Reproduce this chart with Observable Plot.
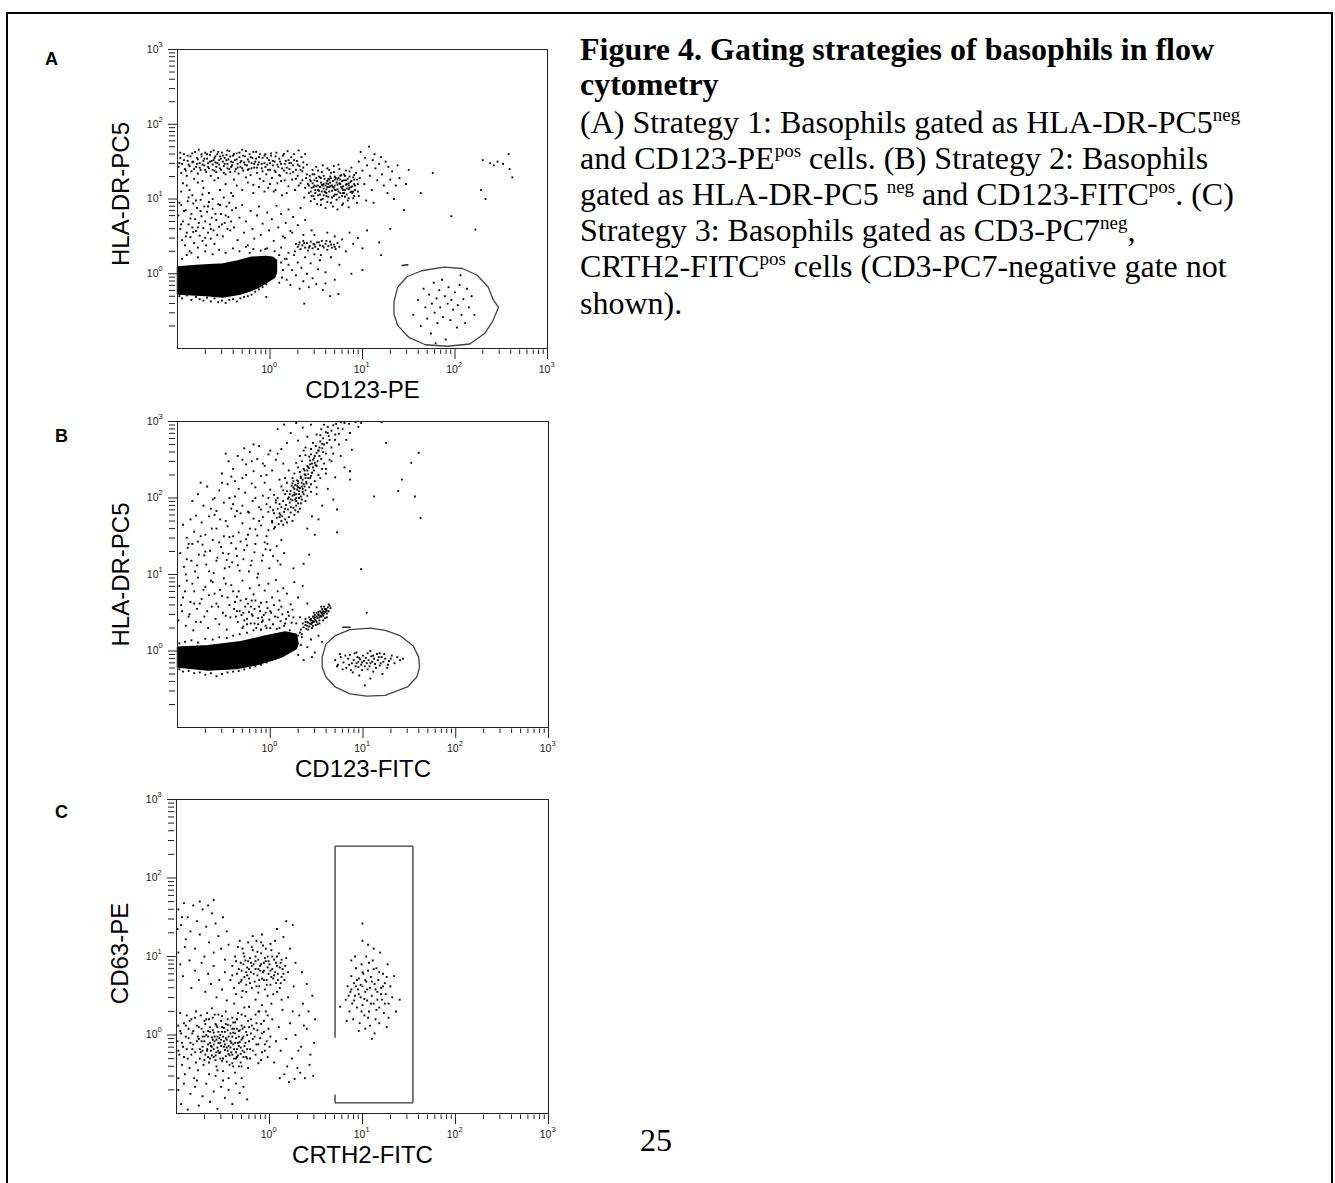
<!DOCTYPE html>
<html><head><meta charset="utf-8">
<script src="https://cdn.jsdelivr.net/npm/d3@7"></script>
<script src="https://cdn.jsdelivr.net/npm/@observablehq/plot@0.6"></script>
<style>
html,body{margin:0;padding:0;background:#fff;}
#page{position:relative;width:1335px;height:1183px;overflow:hidden;background:#fff;}
#border{position:absolute;left:6px;top:12px;width:1323px;height:1220px;border:2px solid #000;border-bottom:none;}
.panel{position:absolute;left:0;}
.letter{position:absolute;font:bold 18px "Liberation Sans",Arial,sans-serif;line-height:18px;}
.cap{position:absolute;left:580px;font:32px "Liberation Serif","Times New Roman",serif;line-height:32px;white-space:nowrap;color:#000;}
.cap.b{font-weight:bold;}
.cap sup{font-size:19px;vertical-align:12px;line-height:0;}
</style></head><body>
<div id="page">
<div id="border"></div>
<div class="letter" style="left:45px;top:50px">A</div>
<div class="letter" style="left:55px;top:427px">B</div>
<div class="letter" style="left:55px;top:803px">C</div>
<div class="cap b" style="top:33px">Figure 4. Gating strategies of basophils in flow</div>
<div class="cap b" style="top:68px">cytometry</div>
<div class="cap" style="top:106px">(A) Strategy 1: Basophils gated as HLA-DR-PC5<sup>neg</sup></div>
<div class="cap" style="top:142px">and CD123-PE<sup>pos</sup> cells. (B) Strategy 2: Basophils</div>
<div class="cap" style="top:178px">gated as HLA-DR-PC5 <sup>neg</sup> and CD123-FITC<sup>pos</sup>. (C)</div>
<div class="cap" style="top:214px">Strategy 3: Basophils gated as CD3-PC7<sup>neg</sup>,</div>
<div class="cap" style="top:250px">CRTH2-FITC<sup>pos</sup> cells (CD3-PC7-negative gate not</div>
<div class="cap" style="top:287px">shown).</div>
<div class="cap" style="top:1124px;left:640px">25</div>
<div id="pA" class="panel"></div>
<div id="pB" class="panel"></div>
<div id="pC" class="panel"></div>
</div>
<script>
// Event coordinates are log10(value) x 100, as flat (x, y) pairs.
const majorTicks = [1, 10, 100, 1000];
const tickBase = "10";
const tickExponents = ["0", "1", "2", "3"];
const minorTicks = [0.2,0.3,0.4,0.5,0.6,0.7,0.8,0.9, 2,3,4,5,6,7,8,9, 20,30,40,50,60,70,80,90, 200,300,400,500,600,700,800,900];

const A_blob = [-100,9, -80,11, -51,13, -35,17, -20,22, -5,23, 3,22, 7,18, 7,2, 5,-5, -4,-12, -12,-18, -22,-23, -32,-27, -51,-31, -70,-29, -100,-27];
const A_gate = [134,-38, 138,-18, 148,-4, 164,4, 188,9, 208,7, 224,-2, 236,-18, 241,-34, 247,-45, 241,-63, 232,-80, 216,-94, 192,-97, 168,-95, 150,-85, 138,-69, 134,-54];
const A_dash = [143,11, 149,12];
const A_cloud = [
-98,148,-96,135,-97,162,-94,121,-93,152,-92,140,-90,131,-89,158,-88,146,-87,112,-85,137,-84,161,-83,150,-82,127,-80,143,-79,155,-78,134,-77,166,-76,148,-75,139,-74,157,-73,124,-72,151,-71,145,-70,162,-69,136,-68,154,-67,148,-66,141,-65,159,-64,131,-63,151,-62,146,-61,165,-60,138,-60,155,-59,149,-58,143,-57,160,-56,128,-55,152,-55,146,-54,157,-53,139,-52,162,-51,150,-50,144,-49,155,-48,133,-47,159,-46,147,-46,141,-45,153,-44,164,-43,136,-42,150,-41,145,-40,158,-39,126,-38,152,-37,140,-36,161,-35,147,-34,134,-33,156,-32,143,-31,151,-30,166,-29,138,-28,149,-27,157,-26,129,-25,145,-24,153,-23,140,-22,160,-21,132,-20,148,-19,155,-18,119,-17,142,-16,150,-15,163,-14,135,-13,146,-12,156,-11,127,
-99,143,-97,155,-95,147,-93,160,-91,138,-89,151,-87,144,-86,157,-84,149,-82,140,-81,163,-79,147,-78,153,-76,142,-74,160,-73,146,-71,154,-70,139,-68,160,-67,143,-65,150,-64,163,-62,139,-61,152,-59,157,-58,136,-57,148,-56,163,-54,141,-53,154,-51,158,-50,135,-49,147,-47,152,-46,165,-44,140,-43,157,-42,143,-40,149,-39,160,-38,137,-36,153,-35,142,-33,162,-32,149,-30,141,-29,158,-27,146,-26,164,-24,139,-23,150,-21,156,-20,141,-18,163,-17,147,-15,154,-14,142,-12,149,-11,160,-9,147,-8,137,-6,158,-5,143,-3,155,-2,139,0,148,1,161,3,151,5,138,6,157,8,146,10,132,11,150,13,141,15,160,16,147,18,135,20,152,21,140,23,148,25,136,26,152,28,127,30,146,31,118,33,139,35,125,36,142,38,115,40,133,
-96,110,-90,118,-84,105,-78,122,-72,115,-66,108,-60,125,-54,112,-48,120,-42,108,-36,118,-30,112,-24,122,-18,108,-12,116,-6,110,0,120,6,112,12,124,18,108,
-9,141,-8,155,-7,124,-6,148,-5,160,-4,133,-3,146,-2,115,-1,152,0,139,1,158,2,128,3,145,4,110,5,150,6,136,7,162,8,121,9,143,10,154,11,131,12,147,13,105,14,158,15,138,16,125,17,151,18,142,19,164,20,117,21,148,22,134,23,156,24,126,25,145,26,160,27,112,28,139,29,151,30,131,31,165,32,144,33,121,34,156,35,137,36,149,37,102,38,160,39,128,40,146,
41,120,42,108,43,131,44,97,45,115,46,139,47,104,48,125,49,112,50,143,51,93,52,118,53,130,54,106,55,122,56,136,57,100,58,114,59,127,60,88,60,109,61,121,62,141,63,103,64,116,65,130,66,95,67,111,68,124,69,136,70,106,70,118,71,128,72,99,73,113,74,146,75,121,76,108,77,132,78,92,79,117,80,125,81,103,82,138,83,114,84,98,85,121,86,130,87,109,88,142,89,117,90,101,91,126,92,112,93,135,94,95,95,120,44,124,47,116,50,128,53,111,56,119,58,105,61,113,63,127,65,117,67,102,69,115,72,122,74,110,76,126,78,114,80,108,83,120,85,113,88,124,46,133,52,138,57,145,64,139,69,144,75,140,81,131,86,137,91,132,48,100,55,92,62,96,68,90,73,86,79,94,85,89,90,110,96,104,97,128,
42,118,43,126,45,104,46,121,48,133,49,108,51,124,52,112,54,129,55,99,57,118,58,131,59,110,61,104,62,124,64,110,65,122,66,135,68,116,69,104,70,126,71,112,73,119,74,128,75,102,77,116,78,124,79,108,80,133,82,119,83,106,84,127,86,115,87,123,89,108,90,129,92,118,94,126,95,110,60,118,66,128,72,106,76,131,81,112,85,101,88,116,91,104,56,110,50,117,63,120,
44,110,48,118,52,105,55,128,58,120,61,108,64,126,67,118,70,112,73,126,76,120,79,112,82,125,85,118,88,110,91,120,54,116,62,116,70,130,78,104,
96,150,98,163,100,138,102,120,103,155,105,145,107,170,108,131,110,112,111,152,113,160,114,141,116,125,118,147,120,156,121,133,123,118,125,150,127,108,128,143,130,126,132,137,134,100,136,118,138,145,104,98,112,95,140,128,
-99,78,-97,60,-96,92,-95,45,-94,70,-92,38,-91,85,-90,55,-89,97,-88,66,-87,30,-86,49,-85,80,-84,62,-83,94,-82,41,-81,73,-80,57,-79,88,-78,35,-77,68,-76,51,-75,99,-74,77,-73,44,-72,61,-71,90,-70,70,-69,38,-68,83,-67,55,-66,96,-65,66,-64,47,-63,75,-62,87,-61,58,-60,40,-58,72,-56,93,-55,63,-53,80,-51,50,-49,68,-47,90,-45,76,-43,58,-41,85,
-98,95,-96,66,-93,84,-91,50,-88,102,-86,74,-83,56,-80,98,-78,62,-75,84,-73,106,-70,48,-67,90,-64,60,-62,100,-59,80,-57,52,-54,92,-52,66,-50,102,-48,78,-46,60,-44,95,-42,70,-40,104,
-39,62,-37,88,-35,45,-33,75,-30,92,-28,55,-26,70,-24,38,-21,84,-19,60,-17,47,-14,78,-12,90,-10,52,-8,67,-5,33,-3,82,-1,58,2,73,4,44,7,91,9,62,12,80,14,50,17,68,20,86,22,57,25,76,27,30,30,65,33,88,36,52,38,72,-22,28,-6,22,
28,40,30,36,32,42,33,33,35,38,36,44,38,35,40,41,41,31,43,37,44,43,46,34,47,40,49,36,51,42,52,33,54,38,56,44,58,35,60,40,62,32,63,37,65,43,67,35,69,39,71,33,73,41,75,36,31,39,37,41,42,35,48,39,53,42,57,37,61,44,66,39,70,36,
12,35,16,48,20,28,24,55,48,52,55,25,62,55,70,50,78,46,82,30,86,55,90,40,95,48,100,34,18,20,66,22,45,58,105,58,
-98,-30,-95,-33,-90,-29,-85,-35,-80,-31,-76,-34,-72,-36,-68,-32,-64,-37,-60,-33,-56,-38,-52,-36,-48,-39,-44,-35,-40,-34,-36,-37,-32,-33,-28,-31,-24,-30,-20,-28,-16,-24,-12,-21,-8,-18,-4,-14,-95,20,-90,25,-85,28,-78,22,-70,30,-62,26,-55,32,-48,28,-40,34,-33,30,-26,36,-18,33,-10,31,-3,34,5,30,10,25,12,15,14,5,13,-5,10,-12,
16,20,18,-8,20,12,22,-15,24,5,26,25,28,-2,30,15,32,-20,34,8,36,-10,38,22,40,0,42,-18,44,14,46,-6,48,26,50,-14,52,6,54,18,57,-22,60,2,65,-30,70,-8,75,12,
155,-55,160,-35,163,-70,166,-20,168,-45,170,-60,172,-28,174,-80,175,-40,177,-12,178,-52,180,-33,181,-66,183,-22,184,-45,186,-8,187,-58,189,-30,190,-88,192,-40,193,-18,195,-62,196,-35,198,-48,200,-25,202,-72,203,-42,205,-15,207,-55,209,-34,211,-66,213,-20,215,-45,218,-30,221,-55,179,-93,206,-2,
230,152,238,148,242,145,246,150,252,147,258,160,259,140,262,129,228,112,233,100,222,59,196,77,176,135,150,139,163,108,147,120,145,85,130,60,118,42,120,25,100,5,88,0,-4,-31,37,-40,74,-27,60,-13
];

const B_blob = [-100,5, -67,7, -32,12, -4,20, 16,25, 28,22, 30,10, 28,3, 12,-8, -12,-17, -36,-23, -67,-25, -100,-21];
const B_gate = [56,-8, 60,9, 70,20, 86,28, 108,30, 124,27, 140,20, 154,7, 160,-8, 161,-21, 158,-34, 148,-47, 124,-58, 104,-59, 86,-56, 70,-47, 60,-34, 56,-21];
const B_dash = [78,31, 86,31];
const B_cloud = [
5,162,9,166,12,170,7,174,14,165,16,172,11,178,18,168,4,180,13,176,
15,182,19,185,22,181,12,188,25,187,17,191,21,194,28,190,14,196,24,197,19,199,27,184,30,193,10,192,
20,201,24,203,28,200,31,205,26,207,33,202,22,209,29,211,35,208,25,214,32,213,27,217,37,215,30,219,23,216,34,220,38,210,28,205,31,209,26,212,36,218,24,219,
30,222,35,224,39,221,33,228,41,226,37,231,44,229,32,234,40,236,36,238,45,233,42,239,47,236,38,226,
40,242,45,245,49,243,43,249,51,248,47,252,53,255,44,257,50,259,55,251,42,254,48,246,
52,262,56,265,49,268,58,270,54,274,61,272,57,278,63,281,50,283,60,286,66,288,55,290,62,293,68,295,71,297,76,299,80,298,85,297,92,299,98,298,73,291,64,276,
2,168,20,175,-2,182,8,186,26,178,32,186,6,194,34,198,16,205,40,203,14,210,42,214,18,220,44,218,24,226,48,222,26,232,52,230,30,240,56,238,34,248,58,245,38,256,60,258,44,264,66,266,46,272,70,276,54,282,74,284,58,296,22,188,28,196,18,209,34,215,29,223,41,231,46,240,52,262,36,205,30,214,21,205,27,198,33,193,16,186,10,180,38,230,43,244,48,255,56,271,62,285,
10,175,24,170,0,188,30,182,8,200,38,196,12,215,44,208,16,226,50,214,20,236,54,226,28,246,60,232,32,255,64,250,36,262,68,258,22,198,26,204,31,200,35,212,29,216,33,226,39,219,25,222,37,236,43,226,41,240,46,250,50,242,53,266,57,260,
8,290,15,296,22,285,28,298,35,292,40,280,44,296,30,275,18,272,12,264,38,266,70,283,78,290,86,285,95,293,82,276,74,270,88,263,
-52,232,-45,248,-40,238,-35,255,-30,226,-26,244,-22,260,-18,235,-14,251,-10,229,-6,242,-2,257,2,236,6,250,10,224,14,245,-48,258,-38,222,-28,265,-12,268,0,262,60,238,66,248,70,227,76,255,80,240,-42,228,-20,248,-4,230,8,258,
-78,205,-72,190,-68,215,-62,198,-58,183,-55,210,-50,194,-46,218,-42,186,-38,202,-34,212,-30,190,-27,207,-23,181,-19,196,-16,214,-12,188,-8,203,-4,192,0,211,3,184,6,197,-64,186,-44,200,-36,183,-20,219,-2,200,50,205,56,190,62,212,68,198,72,185,-84,196,-75,220,
-94,165,-90,148,-86,172,-82,156,-78,143,-74,168,-70,152,-66,176,-62,145,-58,160,-54,172,-50,150,-46,163,-42,141,-38,176,-34,155,-30,167,-26,146,-22,160,-18,173,-14,151,-10,164,-6,142,-2,158,2,170,-88,140,-60,178,-32,143,-16,159,40,160,48,152,52,172,45,176,-80,177,-44,149,-8,175,
-97,128,-93,110,-89,135,-85,118,-81,104,-77,126,-73,139,-69,113,-65,131,-61,102,-57,122,-53,136,-49,108,-45,127,-41,116,-37,134,-33,105,-29,120,-25,138,-21,112,-17,129,-13,101,-9,118,-5,133,-1,108,3,124,7,137,11,113,15,128,-71,125,-47,119,-23,104,-3,140,-35,112,-91,100,36,114,42,126,25,108,
-90,120,-84,140,-79,112,-75,150,-70,130,-66,104,-63,160,-58,118,-55,142,-51,128,-48,170,-44,110,-40,150,-36,124,-32,180,-28,132,-24,152,-20,118,-16,140,-12,170,-8,125,-4,150,0,132,4,160,8,118,12,145,-60,200,-52,220,-40,192,-26,230,-16,200,-6,220,4,204,-30,250,-18,270,-8,245,-24,182,-10,185,
-98,85,-94,70,-90,92,-86,64,-82,78,-78,96,-74,68,-70,84,-66,73,-62,90,-58,62,-54,80,-50,95,-46,70,-42,86,-38,64,-34,78,-30,92,-26,68,-22,82,-18,74,-14,96,-10,63,-6,79,-2,88,2,70,6,93,10,66,14,82,18,75,22,61,26,90,30,70,-60,75,-36,71,-12,86,8,78,35,85,40,62,-82,62,-48,88,-20,66,
-96,60,-92,78,-88,45,-84,88,-80,38,-76,62,-72,80,-68,52,-64,92,-56,58,-52,72,-48,46,-44,60,-40,78,-36,52,-32,66,-28,40,-24,62,-20,48,-16,66,-12,58,-8,40,-4,64,0,52,4,60,8,44,12,58,16,36,20,46,24,54,28,36,32,44,-30,30,-10,28,10,30,
-99,40,-95,52,-91,33,-87,48,-83,27,-79,55,-75,38,-71,45,-67,30,-63,58,-59,42,-55,35,-51,50,-47,28,-43,44,-39,55,-35,38,-31,47,-29,32,-27,58,-25,42,-23,51,-21,36,-19,46,-17,55,-15,30,-13,43,-11,52,-9,38,-7,47,-5,33,-3,56,-1,41,1,50,3,35,5,45,7,29,9,54,11,39,13,48,15,33,17,42,19,51,21,27,23,37,25,44,-33,52,-17,36,-9,44,-37,45,-21,58,0,30,-13,35,-5,50,-25,35,-29,50,
36,31,38,34,40,33,41,37,43,36,44,40,46,39,47,43,48,41,50,45,51,43,52,47,54,46,55,50,56,48,57,52,59,51,60,55,61,53,62,57,64,59,45,37,49,40,53,44,58,49,42,32,47,38,55,45,59,55,63,52,30,20,32,24,34,22,33,28,
35,36,39,29,43,41,46,33,50,38,48,47,53,40,57,46,56,55,61,49,65,56,63,61,52,51,44,35,38,38,
38,42,42,44,46,45,50,50,54,52,58,58,41,28,45,30,49,34,53,36,57,40,61,44,40,38,44,42,48,44,52,48,56,50,60,52,47,50,51,35,55,58,59,43,
160,259,152,246,142,224,138,209,112,202,156,202,162,174,98,107,104,50,72,155,86,235,86,224,125,272,120,299,
70,-12,73,-18,76,-8,79,-15,82,-22,84,-10,86,-5,88,-16,90,-12,92,-20,94,-8,95,-14,97,-11,98,-18,100,-6,101,-13,103,-9,104,-16,106,-12,107,-20,109,-7,110,-14,112,-10,113,-17,115,-4,116,-12,118,-19,120,-8,122,-14,124,-10,126,-22,128,-13,131,-6,134,-16,137,-8,140,-12,143,-10,99,-25,105,-24,93,-2,111,-27,102,-45,121,-30,96,-32,89,-28,118,-3,108,0,95,-21,108,-36,
72,-20,75,-4,78,-24,81,-6,85,-18,87,-25,91,-3,93,-16,96,-9,99,-15,102,-20,105,-3,108,-16,111,-6,114,-22,117,-8,119,-16,123,-4,127,-18,130,-10,
-98,-24,-94,-27,-88,-26,-82,-29,-76,-28,-70,-31,-64,-29,-58,-33,-52,-30,-46,-28,-40,-27,-34,-26,-28,-24,-22,-22,-16,-20,-10,-18,-4,-15,2,-12,6,-10,
-98,10,-92,12,-85,14,-78,11,-70,16,-62,15,-55,18,-47,17,-40,20,-33,22,-25,24,-18,27,-10,28,-4,30,
30,-5,33,8,36,-12,40,5,44,15,48,-2,52,20,56,12,34,18,45,-8
];

const C_gate = [70.5, 154.2, -86.4, 240.5];   // x1, x2, y1, y2
const C_gateGap = [-3.6, -75.8];               // break in the left edge
const C_cloud = [
-85,-10,-82,5,-80,-22,-78,12,-76,-5,-75,-30,-73,8,-72,-15,-70,18,-69,-25,-68,0,-66,-12,-65,-35,-64,10,-63,-20,-62,-3,-61,22,-60,-28,-59,-8,-58,14,-57,-40,-56,-16,-55,4,-54,-23,-53,-10,-52,18,-51,-33,-50,-2,-49,9,-48,-19,-47,-27,-46,-6,-45,13,-44,-14,-43,-38,-42,2,-41,-22,-40,8,-39,-12,-38,-30,-37,16,-36,-4,-35,-18,-34,-26,-33,5,-32,-9,-31,-35,-30,12,-29,-20,-28,-2,-27,-14,-26,24,-25,-28,-24,0,-23,-42,-22,10,
-98,-20,-96,5,-94,-10,-92,-28,-90,12,-89,-18,-87,-4,-86,18,-84,-25,-83,2,-82,-12,-80,22,-79,-35,-77,-2,-76,10,-74,-22,-73,-8,-71,4,-70,-32,-69,14,-67,-18,-66,-2,-65,20,-64,-10,-62,-26,-61,6,-60,-12,-59,26,-58,-32,-57,-6,-56,10,-55,-20,-53,0,-52,-14,-51,24,-50,-30,-49,-8,-48,4,-46,-16,-45,20,-44,-2,-43,-26,-42,12,-41,-10,-40,-36,-39,16,-38,-18,-37,2,-36,-30,-35,20,-34,-10,-33,-40,-32,6,-31,-16,-30,26,-29,-4,-28,-28,-27,10,-26,-10,-25,4,-24,-18,-23,18,-22,-8,-21,-30,-20,2,-19,12,-18,-20,-16,-2,-15,26,-14,-12,-13,6,-12,-36,-10,-4,-9,14,-8,-22,-6,4,-5,-12,-4,30,-2,-28,-1,8,1,-2,
-70,-2,-67,-20,-64,4,-62,-15,-59,-2,-57,12,-55,-10,-53,-22,-51,4,-49,-15,-47,-4,-45,6,-44,-24,-42,-16,-40,-2,-38,8,-37,-10,-35,-28,-33,-2,-31,-24,-29,8,-27,-22,-58,-26,-66,-28,-72,-20,-46,-34,-39,-40,-52,-6,-61,-6,-56,-2,
-99,-8,-98,12,-97,-25,-96,28,-95,2,-94,-38,-93,-15,-92,15,-91,-50,-90,-2,-89,25,-88,-30,-87,8,-86,-42,-84,20,-83,-18,-81,-55,-79,30,-77,-45,-74,25,-71,-38,-67,28,-65,-50,-62,34,-58,-52,-55,26,-50,-46,-47,30,-44,-55,-40,22,-37,-48,-34,28,-30,-40,-27,35,-24,-30,-21,-18,-20,20,-18,-5,-17,8,-15,-25,-14,15,-12,-12,-11,30,-9,-32,-8,2,-6,18,-5,-20,-3,-8,-2,25,0,-15,
-70,-8,-66,5,-63,-14,-60,3,-57,-22,-54,-4,-51,10,-48,-12,-45,-20,-42,-8,-39,3,-36,-22,-33,-14,-30,-6,-60,-18,-75,-18,-72,-2,-53,-30,-40,-25,-47,14,-35,8,-64,-30,-78,-8,-68,20,-56,-45,
-42,70,-40,88,-38,60,-37,100,-35,78,-34,112,-33,66,-31,92,-30,82,-29,56,-28,104,-27,74,-26,95,-25,64,-24,86,-23,118,-22,72,-21,98,-20,80,-19,60,-18,108,-17,90,-16,68,-15,84,-14,120,-13,76,-12,96,-11,62,-10,88,-9,104,-8,72,-7,114,-6,82,-5,58,-4,94,-3,70,-2,100,-1,78,0,90,1,64,2,108,3,84,4,72,5,96,6,120,7,66,8,88,9,78,10,104,11,60,12,92,13,74,14,84,16,70,18,98,20,80,-32,120,-18,126,-8,128,-36,52,-12,54,4,52,-20,92,-15,100,-10,82,-6,92,-24,76,-2,86,6,80,-28,90,
-40,76,-36,94,-33,84,-30,70,-27,100,-25,80,-23,94,-21,66,-19,88,-17,78,-15,94,-13,106,-11,70,-9,90,-7,80,-5,98,-3,64,-1,94,1,82,3,100,5,76,7,92,9,70,11,86,13,96,15,78,17,88,-19,112,-9,118,1,116,-29,110,-14,62,-4,110,8,100,12,66,-31,68,-22,84,-12,84,-6,70,2,74,
-98,160,-95,140,-92,168,-90,122,-88,150,-85,132,-82,165,-80,110,-78,145,-75,128,-72,160,-70,100,-68,138,-65,118,-62,155,-60,105,-58,142,-55,126,-52,110,-50,150,-48,96,-46,132,-44,115,-98,105,-96,90,-93,75,-91,112,-86,95,-84,60,-80,82,-76,70,-73,92,-69,55,-66,78,-63,65,-60,88,-57,48,-54,70,-51,58,-48,80,-46,44,
2,40,5,-35,8,55,10,10,12,-20,14,32,16,-50,18,-5,20,48,22,15,24,-30,26,62,28,0,30,-42,32,25,34,-15,36,40,38,-55,40,8,42,30,44,-25,46,50,48,-10,3,20,7,-8,13,45,19,-40,25,30,31,-20,37,12,43,-38,49,20,11,-55,21,-60,33,-48,47,-52,27,-56,
-98,-70,-95,-88,-92,-62,-88,-95,-85,-75,-80,-66,-76,-90,-72,-78,-68,-62,-64,-85,-60,-72,-56,-94,-52,-66,-48,-80,-44,-70,-40,-88,-36,-62,-32,-74,-28,-66,-24,-82,-98,-55,-78,-58,-50,-58,-30,-55,
-38,40,-30,48,-22,36,-15,45,-8,38,-2,50,-25,55,-12,30,15,125,22,110,28,92,35,80,25,140,8,135,40,65,18,145,-99,135,-75,170,-66,165,-60,172,-94,150,
82,45,84,62,86,30,87,55,88,75,89,40,90,20,91,66,92,50,93,85,94,35,95,58,96,72,97,15,98,48,99,90,100,62,100,38,101,78,102,25,103,55,104,100,104,68,105,44,106,82,107,30,108,60,108,12,109,74,110,50,111,95,112,40,113,65,114,20,115,85,116,55,117,70,118,35,119,105,120,60,121,45,122,78,123,28,124,66,125,52,127,90,128,40,130,62,132,48,134,75,136,30,96,5,103,8,110,-5,113,2,118,15,126,10,100,120,106,115,112,110,92,100,88,95,
85,50,88,58,91,44,94,70,96,52,98,64,100,80,102,46,103,70,105,58,107,92,109,40,110,68,112,84,114,58,116,45,118,80,120,52,122,62,124,40,126,74,99,30,106,22,115,32,93,62,
100,142,76,36,83,18,140,45,128,22
];

const decode = arr => { const out = []; for (let i = 0; i + 1 < arr.length; i += 2) out.push({x: 10 ** (arr[i] / 100), y: 10 ** (arr[i + 1] / 100)}); return out; };
const tickRows = majorTicks.map((v, i) => ({v, base: tickBase, exp: tickExponents[i]}));

function panel({el, frameTop, frameBottom, frameLeft, frameRight, cloud, blob, gate, dash, rect, xLabel, yLabel, yLabelDy}) {
  const mt = 20, mb = 60, W = 560;
  const marks = [];
  if (blob) marks.push(Plot.line(decode(blob), {x: "x", y: "y", curve: "linear-closed", fill: "#000", stroke: "#000", strokeWidth: 1.5}));
  marks.push(Plot.dot(decode(cloud), {x: "x", y: "y", symbol: "square", r: 1.05, fill: "#000"}));
  if (gate) marks.push(Plot.line(decode(gate), {x: "x", y: "y", curve: "linear-closed", stroke: "#444", strokeWidth: 1.3}));
  if (dash) marks.push(Plot.line(decode(dash), {x: "x", y: "y", stroke: "#222", strokeWidth: 1.5}));
  if (rect) {
    const [x1, x2, y1, y2] = rect.box.map(v => 10 ** (v / 100));
    const [g1, g2] = rect.gap.map(v => 10 ** (v / 100));
    const segs = [
      {x1, y1: y2, x2, y2}, {x1: x2, y1: y2, x2, y2: y1}, {x1, y1, x2, y2: y1},
      {x1, y1: y2, x2: x1, y2: g1}, {x1, y1: g2, x2: x1, y2: y1}
    ];
    marks.push(Plot.link(segs, {x1: "x1", y1: "y1", x2: "x2", y2: "y2", stroke: "#333", strokeWidth: 1.3}));
  }
  marks.push(
    Plot.frame({stroke: "#222", strokeWidth: 1}),
    Plot.axisX(minorTicks, {tickSize: 4.5, text: null, label: null, dy: 1.5, stroke: "#222"}),
    Plot.axisX(majorTicks, {tickSize: 11, text: null, label: null, stroke: "#222"}),
    Plot.axisY(minorTicks, {tickSize: 6, text: null, label: null, dx: -2, stroke: "#222"}),
    Plot.axisY(majorTicks, {tickSize: 9, text: null, label: null, stroke: "#222"}),
    // tick labels: "10" with a raised exponent
    Plot.text(tickRows, {x: "v", text: "base", frameAnchor: "bottom", dx: -3, dy: 24, lineAnchor: "bottom", fontSize: 10.5, fill: "#222"}),
    Plot.text(tickRows, {x: "v", text: "exp", frameAnchor: "bottom", dx: 3, dy: 18, lineAnchor: "bottom", textAnchor: "start", fontSize: 7.5, fill: "#222"}),
    Plot.text(tickRows, {y: "v", text: "base", frameAnchor: "left", dx: -19, dy: 0, lineAnchor: "middle", textAnchor: "end", fontSize: 10.5, fill: "#222"}),
    Plot.text(tickRows, {y: "v", text: "exp", frameAnchor: "left", dx: -19, dy: -5, lineAnchor: "middle", textAnchor: "start", fontSize: 7.5, fill: "#222"}),
    Plot.text([xLabel], {frameAnchor: "bottom", dy: 49, lineAnchor: "bottom", fontSize: 24, fill: "#000"}),
    Plot.text([yLabel], {frameAnchor: "left", dx: -49, dy: yLabelDy, rotate: -90, lineAnchor: "bottom", textAnchor: "middle", fontSize: 24, fill: "#000"})
  );
  const chart = Plot.plot({
    width: W,
    height: (frameBottom - frameTop) + mt + mb,
    marginTop: mt, marginBottom: mb, marginLeft: frameLeft, marginRight: W - frameRight,
    x: {type: "log", domain: [0.1, 1000]},
    y: {type: "log", domain: [0.1, 1000]},
    style: {fontFamily: "'Liberation Sans', Arial, sans-serif", background: "transparent", overflow: "visible", color: "#222"},
    marks
  });
  const host = document.getElementById(el);
  host.style.top = (frameTop - mt) + "px";
  host.appendChild(chart);
}

panel({el: "pA", frameTop: 49, frameBottom: 348, frameLeft: 177, frameRight: 547, cloud: A_cloud, blob: A_blob, gate: A_gate, dash: A_dash, xLabel: "CD123-PE", yLabel: "HLA-DR-PC5", yLabelDy: -5});
panel({el: "pB", frameTop: 421, frameBottom: 727, frameLeft: 177, frameRight: 548, cloud: B_cloud, blob: B_blob, gate: B_gate, dash: B_dash, xLabel: "CD123-FITC", yLabel: "HLA-DR-PC5", yLabelDy: 0});
panel({el: "pC", frameTop: 799, frameBottom: 1113, frameLeft: 176, frameRight: 548, cloud: C_cloud, rect: {box: C_gate, gap: C_gateGap}, xLabel: "CRTH2-FITC", yLabel: "CD63-PE", yLabelDy: -3});
</script>
</body></html>
